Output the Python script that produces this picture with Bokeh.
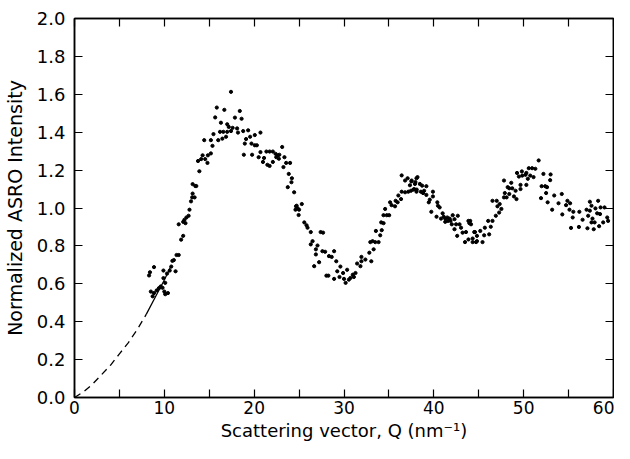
from bokeh.plotting import figure
from bokeh.models import LinearAxis, FixedTicker, NumeralTickFormatter, Range1d, CustomJSTickFormatter
from bokeh.embed import file_html
from bokeh.resources import INLINE

q_vals = [8.3, 8.4, 8.5, 8.7, 8.85, 8.85, 9.15, 9.4, 9.6, 9.8, 9.9, 9.9, 10.0, 10.1, 10.1, 10.3, 10.4, 10.6, 10.77, 10.9,
          11.06, 11.25, 11.36, 11.6, 11.87, 12.1, 11.6, 12.1, 12.24, 12.35, 12.46, 12.7, 12.8, 12.97, 13.1, 13.15, 13.15,
          13.37, 13.45, 13.56, 13.75, 13.9, 14.1, 14.26, 14.44, 14.55, 14.8, 14.85, 15.18, 15.18, 15.36, 15.47, 15.66,
          15.84, 16.0, 16.2, 16.3, 16.46, 16.57, 16.68, 16.87, 17.0, 17.0, 17.17, 17.42, 17.42, 17.6, 17.86, 18.1, 18.2,
          18.4, 18.6, 18.78, 18.85, 18.96, 19.1, 19.33, 19.55, 19.7, 19.77, 20.07, 20.07, 20.3, 20.5, 20.7, 20.7, 20.98,
          21.1, 21.36, 21.47, 21.72, 21.72, 22.08, 22.08, 22.38, 22.46, 22.64, 22.75, 22.8, 23.12, 23.26, 23.37, 23.56,
          23.74, 23.85, 24.0, 24.15, 24.2, 24.45, 24.6, 24.66, 24.73, 24.84, 24.95, 25.0, 25.3, 25.58, 25.83, 25.94, 26.3,
          26.3, 26.5, 26.68, 26.87, 26.87, 27.05, 27.23, 27.4, 27.67, 27.6, 27.9, 28.04, 28.26, 28.33, 28.63, 28.9, 28.9,
          29.14, 29.25, 29.5, 29.6, 29.9, 30.0, 30.18, 30.35, 30.54, 30.72, 30.98, 31.1, 31.28, 31.46, 31.83, 31.94, 31.94,
          32.38, 32.82, 32.93, 33.04, 33.18, 33.3, 33.48, 33.55, 33.85, 34.03, 34.14, 34.2, 34.4, 34.4, 34.58, 34.76,
          35.03, 35.13, 35.3, 35.68, 35.75, 35.97, 36.05, 36.35, 36.42, 36.42, 36.8, 36.8, 37.08, 37.16, 37.34, 37.45,
          37.5, 37.53, 37.72, 37.82, 37.9, 37.95, 38.07, 38.07, 38.1, 38.18, 38.44, 38.56, 38.7, 38.8, 38.92, 39.17, 39.17,
          39.44, 39.55, 39.72, 39.9, 39.9, 40.3, 40.39, 40.46, 40.65, 40.8, 40.98, 41.1, 41.27, 41.27, 41.5, 41.56, 41.76,
          41.86, 42.0, 42.1, 42.3, 42.3, 42.48, 42.6, 42.67, 42.86, 43.03, 43.2, 43.47, 43.58, 43.85, 43.85, 43.96, 44.05,
          44.14, 44.32, 44.32, 44.5, 44.58, 44.7, 44.8, 44.8, 45.17, 45.42, 45.6, 45.68, 46.05, 46.16, 46.34, 46.53, 46.53,
          46.9, 47.0, 47.08, 47.27, 47.33, 47.52, 47.81, 47.81, 47.9, 48.1, 48.22, 48.4, 48.4, 48.62, 48.73, 48.92, 49.1,
          49.2, 49.26, 49.47, 49.65, 49.65, 49.8, 49.84, 50.2, 50.3, 50.3, 50.46, 50.57, 50.73, 50.94, 51.1, 51.3, 51.67,
          51.93, 52.0, 52.2, 52.4, 52.5, 52.6, 52.67, 52.95, 53.0, 53.17, 53.4, 53.88, 54.24, 54.3, 54.72, 54.87, 55.1,
          55.17, 55.27, 55.46, 55.53, 56.15, 56.2, 56.56, 57.0, 57.1, 57.18, 57.37, 57.37, 57.55, 57.55, 57.66, 57.8, 57.9,
          57.99, 58.18, 58.29, 58.4, 58.5, 58.56, 58.85, 59.0, 59.3, 59.4]

i_vals = [0.644, 0.661, 0.559, 0.534, 0.688, 0.551, 0.565, 0.577, 0.586, 0.579, 0.630, 0.670, 0.559, 0.605, 0.545, 0.654,
          0.551, 0.670, 0.691, 0.721, 0.725, 0.666, 0.752, 0.752, 0.833, 0.853, 0.914, 0.927, 0.938, 0.920, 0.950, 0.959,
          0.991, 1.035, 1.056, 1.076, 1.126, 1.056, 1.116, 1.116, 1.248, 1.194, 1.258, 1.278, 1.358, 1.258, 1.238, 1.278,
          1.358, 1.288, 1.328, 1.390, 1.478, 1.530, 1.358, 1.402, 1.450, 1.366, 1.402, 1.518, 1.376, 1.442, 1.402, 1.428,
          1.613, 1.406, 1.423, 1.477, 1.420, 1.398, 1.512, 1.471, 1.406, 1.281, 1.340, 1.364, 1.410, 1.376, 1.340, 1.281,
          1.385, 1.331, 1.331, 1.268, 1.398, 1.295, 1.243, 1.264, 1.298, 1.228, 1.298, 1.222, 1.298, 1.243, 1.286, 1.268,
          1.278, 1.260, 1.281, 1.322, 1.216, 1.268, 1.238, 1.110, 1.180, 1.238, 1.136, 1.157, 1.083, 0.991, 1.009, 1.012,
          0.998, 0.963, 0.991, 1.021, 0.924, 0.909, 0.896, 0.873, 0.808, 0.825, 0.693, 0.782, 0.755, 0.802, 0.714, 0.873,
          0.870, 0.772, 0.769, 0.643, 0.643, 0.746, 0.742, 0.772, 0.626, 0.719, 0.666, 0.636, 0.691, 0.657, 0.626, 0.605,
          0.674, 0.622, 0.631, 0.648, 0.636, 0.657, 0.707, 0.693, 0.719, 0.742, 0.728, 0.764, 0.820, 0.719, 0.825, 0.782,
          0.820, 0.879, 0.820, 0.856, 0.924, 0.883, 0.920, 0.962, 0.995, 0.962, 0.962, 1.030, 1.015, 1.009, 1.038, 1.030,
          1.066, 1.047, 1.086, 1.172, 1.083, 1.145, 1.157, 1.086, 1.120, 1.091, 1.140, 1.145, 1.097, 1.100, 1.127, 1.137,
          1.157, 1.086, 1.097, 1.163, 1.127, 1.086, 1.118, 1.079, 1.091, 1.115, 1.069, 1.030, 1.044, 0.980, 1.086, 1.061,
          0.954, 1.030, 1.012, 1.003, 0.944, 0.972, 0.954, 0.944, 0.927, 0.950, 0.932, 0.944, 0.932, 0.914, 0.962, 0.941,
          0.888, 0.914, 0.853, 0.959, 0.914, 0.896, 0.870, 0.820, 0.873, 0.834, 0.932, 0.920, 0.932, 0.914, 0.820, 0.839,
          0.873, 0.873, 0.820, 0.853, 0.825, 0.879, 0.820, 0.856, 0.896, 0.932, 0.861, 0.901, 0.932, 1.038, 0.959, 1.038,
          1.009, 0.976, 1.021, 0.995, 1.056, 1.145, 1.079, 1.056, 1.110, 1.074, 1.104, 1.133, 1.104, 1.061, 1.091, 1.047,
          1.185, 1.166, 1.122, 1.100, 1.193, 1.171, 1.175, 1.122, 1.185, 1.154, 1.210, 1.171, 1.210, 1.163, 1.207, 1.251,
          1.052, 1.115, 1.180, 1.115, 1.079, 1.110, 1.030, 1.147, 1.177, 0.991, 1.066, 1.025, 1.074, 0.966, 1.015, 1.038,
          0.991, 1.025, 0.895, 0.950, 0.980, 0.900, 0.980, 0.938, 0.991, 0.893, 0.959, 1.033, 0.986, 1.012, 0.924, 0.944,
          0.888, 0.924, 0.998, 0.972, 1.038, 0.904, 0.968, 1.003, 0.924, 1.003, 0.950, 0.932]

# small-Q extrapolation curve (dashed part and solid fitted part)
dash_q = [0, 1, 2, 3, 4, 5, 6, 7, 8]
dash_i = [0, 0.03, 0.07, 0.12, 0.17, 0.23, 0.29, 0.36, 0.44]
solid_q = [8, 9, 10, 10.7]
solid_i = [0.44, 0.53, 0.62, 0.69]

x_ticks = [0, 10, 20, 30, 40, 50, 60]
x_minor = [5, 15, 25, 35, 45, 55]
y_ticks = [0.0, 0.2, 0.4, 0.6, 0.8, 1.0, 1.2, 1.4, 1.6, 1.8, 2.0]

FONT = "DejaVu Sans"

p = figure(width=614, height=443, output_backend="svg", toolbar_location=None,
           x_range=Range1d(0, 60), y_range=Range1d(0, 2.0),
           min_border_left=73, min_border_right=1, min_border_top=18, min_border_bottom=46)
p.grid.visible = False
p.outline_line_color = "black"
p.outline_line_width = 1.5
p.background_fill_color = "white"
p.border_fill_color = "white"

p.scatter(q_vals, i_vals, size=3.2, color="black", marker="circle")
p.line(dash_q, dash_i, line_color="black", line_width=1.3, line_dash="7 5")
p.line(solid_q, solid_i, line_color="black", line_width=1.3)

for ax in (p.xaxis[0], p.yaxis[0]):
    ax.axis_line_color = "black"
    ax.axis_line_width = 1.5
    ax.major_tick_in = 8
    ax.major_tick_out = 0
    ax.minor_tick_in = 8
    ax.minor_tick_out = 0
    ax.major_tick_line_width = 1.2
    ax.minor_tick_line_width = 1.2
    ax.major_label_text_font = FONT
    ax.major_label_text_font_size = "17px"
    ax.major_label_text_color = "black"
    ax.axis_label_text_font = FONT
    ax.axis_label_text_font_size = "18px"
    ax.axis_label_text_font_style = "normal"
    ax.axis_label_text_color = "black"

p.yaxis[0].major_label_text_font_size = "18px"
p.xaxis[0].ticker = FixedTicker(ticks=x_ticks, minor_ticks=x_minor)
p.yaxis[0].ticker = FixedTicker(ticks=y_ticks, minor_ticks=[])
p.yaxis[0].formatter = NumeralTickFormatter(format="0.0")
p.xaxis[0].major_label_standoff = 3
p.yaxis[0].major_label_standoff = 9
p.xaxis[0].axis_label = "Scattering vector, Q (nm\u207b\u00b9)"
p.yaxis[0].axis_label = "Normalized ASRO Intensity"
p.xaxis[0].axis_label_standoff = 3
p.yaxis[0].axis_label_standoff = 8
p.yaxis[0].axis_label_text_font_size = "19px"

blank = CustomJSTickFormatter(code="return ''")
top = LinearAxis(ticker=FixedTicker(ticks=x_ticks, minor_ticks=x_minor), formatter=blank,
                 major_tick_in=8, major_tick_out=0,
                 minor_tick_in=8, minor_tick_out=0, major_tick_line_width=1.2,
                 minor_tick_line_width=1.2, axis_line_width=1.5, major_label_standoff=0)
right = LinearAxis(ticker=FixedTicker(ticks=y_ticks, minor_ticks=[]), formatter=blank,
                   major_tick_in=8, major_tick_out=0,
                   major_tick_line_width=1.2, axis_line_width=1.5, major_label_standoff=0)
p.add_layout(top, "above")
p.add_layout(right, "right")

open("out.html", "w").write(file_html(p, INLINE))
